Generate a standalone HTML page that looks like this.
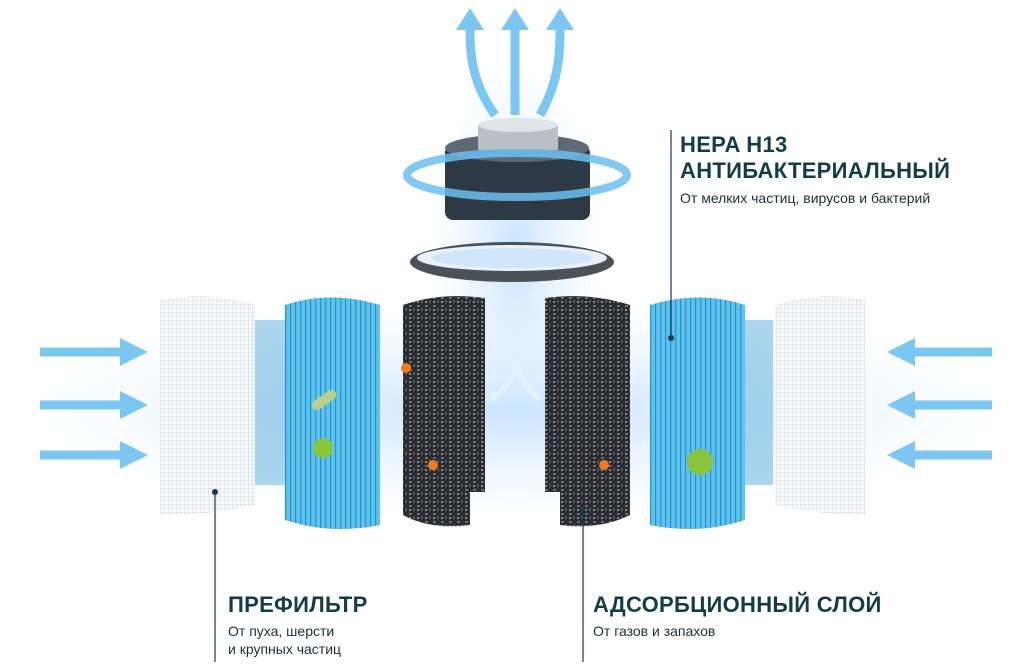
<!DOCTYPE html>
<html><head><meta charset="utf-8"><style>
body{margin:0;background:#fff;}
.w{position:relative;width:1032px;height:671px;overflow:hidden;font-family:"Liberation Sans","Noto Sans CJK SC",sans-serif;color:#123c48;}
.t{position:absolute;font-weight:bold;font-size:22px;letter-spacing:0.3px;line-height:26px;}
.s{position:absolute;font-size:14px;line-height:18px;color:#1d2f36;}
</style></head><body><div class="w">
<svg width="1032" height="671" style="position:absolute;left:0;top:0">
<defs>
<radialGradient id="glow" cx="0.5" cy="0.5" r="0.5"><stop offset="0" stop-color="#bfe0ff" stop-opacity="0.9"/><stop offset="1" stop-color="#e6f2ff" stop-opacity="0"/></radialGradient>
<pattern id="pl" width="5" height="10" patternUnits="userSpaceOnUse"><rect width="5" height="10" fill="#5cc2ee"/><rect width="1.2" height="10" fill="#2a90c6"/></pattern>
<pattern id="mesh" width="4" height="4" patternUnits="userSpaceOnUse"><rect width="4" height="4" fill="#f7f9fb"/><path d="M0 0H4M0 0V4" stroke="#b4bcc2" stroke-width="0.5"/></pattern>
<pattern id="carb" width="8" height="8" patternUnits="userSpaceOnUse"><rect width="8" height="8" fill="#2a2c2f"/><rect x="1" y="1" width="3" height="2" fill="#6a6e73"/><rect x="5" y="4" width="2" height="3" fill="#55595e"/><rect x="1" y="5" width="2" height="2" fill="#8a8e92"/></pattern>
</defs>
<ellipse cx="516" cy="410" rx="520" ry="110" fill="url(#glow)"/>
<ellipse cx="516" cy="250" rx="90" ry="200" fill="url(#glow)"/>
<g stroke="#7cc7f2" stroke-width="9" fill="none">
<path d="M40 352H125"/><path d="M40 405H125"/><path d="M40 455H125"/>
<path d="M992 352H910"/><path d="M992 405H910"/><path d="M992 455H910"/>
<path d="M495 115C470 80 470 50 470 25"/><path d="M515 115V25"/><path d="M540 115C560 80 560 50 560 25"/>
</g>
<g fill="#7cc7f2">
<path d="M120 338L148 352L120 366Z"/><path d="M120 391L148 405L120 419Z"/><path d="M120 441L148 455L120 469Z"/>
<path d="M915 338L887 352L915 366Z"/><path d="M915 391L887 405L915 419Z"/><path d="M915 441L887 455L915 469Z"/>
<path d="M456 30L470 8L484 30Z"/><path d="M501 30L515 8L529 30Z"/><path d="M546 30L560 8L574 30Z"/>
</g>
<path d="M160 300Q210 290 255 305V505Q210 515 160 515Z" fill="url(#mesh)"/>
<path d="M775 305Q820 290 865 300V515Q820 515 775 505Z" fill="url(#mesh)"/>
<path d="M285 305Q330 290 380 305V525Q330 535 285 520Z" fill="url(#pl)"/>
<path d="M650 305Q700 290 745 305V520Q700 535 650 525Z" fill="url(#pl)"/>
<rect x="255" y="320" width="30" height="165" fill="#5aaedb" opacity="0.5"/>
<rect x="745" y="320" width="28" height="165" fill="#5aaedb" opacity="0.5"/>
<path d="M403 305Q440 292 485 298V492H470V525Q430 530 403 515Z" fill="url(#carb)"/>
<path d="M545 298Q590 292 630 305V515Q600 530 560 525V492H545Z" fill="url(#carb)"/>
<g stroke="#e4f2ff" stroke-width="6" fill="none" opacity="0.9">
<path d="M490 400C520 380 540 330 535 300"/><path d="M540 400C505 370 490 300 485 240"/>
</g>
<path d="M528 300L538 288L546 302Z" fill="#e4f2ff"/><path d="M477 245L486 230L494 245Z" fill="#e4f2ff"/>
<ellipse cx="512" cy="262" rx="102" ry="20" fill="#4a5157"/>
<ellipse cx="512" cy="258" rx="95" ry="13" fill="#e8f1fa"/>
<ellipse cx="512" cy="258" rx="80" ry="10" fill="#cfe6fb"/>
<rect x="445" y="145" width="145" height="75" rx="8" fill="#2d3a45"/>
<ellipse cx="517" cy="148" rx="72" ry="14" fill="#5b6a75"/>
<rect x="478" y="125" width="80" height="25" fill="#b8c0c6"/>
<ellipse cx="518" cy="125" rx="40" ry="7" fill="#dfe4e8"/>
<ellipse cx="517" cy="175" rx="110" ry="22" fill="none" stroke="#6cc0ef" stroke-width="8" opacity="0.85"/>
<circle cx="323" cy="448" r="10" fill="#8ac43a"/><circle cx="700" cy="462" r="13" fill="#8ac43a"/>
<rect x="310" y="395" width="28" height="10" rx="5" fill="#b9d08a" transform="rotate(-35 324 400)"/>
<circle cx="406" cy="368" r="5" fill="#f07a22"/><circle cx="433" cy="465" r="5" fill="#f07a22"/><circle cx="604" cy="465" r="5" fill="#f07a22"/>
<g stroke="#123c48" stroke-width="1.2">
<line x1="671" y1="130" x2="671" y2="338"/><line x1="215" y1="492" x2="215" y2="662"/><line x1="583" y1="512" x2="583" y2="662"/>
</g>
<g fill="#123c48"><circle cx="671" cy="338" r="3"/><circle cx="215" cy="492" r="3"/><circle cx="583" cy="512" r="3"/></g>
</svg>
<div class="t" style="left:680px;top:132px">HEPA H13<br>АНТИБАКТЕРИАЛЬНЫЙ</div>
<div class="s" style="left:680px;top:189px">От мелких частиц, вирусов и бактерий</div>
<div class="t" style="left:228px;top:592px">ПРЕФИЛЬТР</div>
<div class="s" style="left:228px;top:622px">От пуха, шерсти<br>и крупных частиц</div>
<div class="t" style="left:593px;top:592px">АДСОРБЦИОННЫЙ СЛОЙ</div>
<div class="s" style="left:593px;top:622px">От газов и запахов</div>
</div></body></html>
